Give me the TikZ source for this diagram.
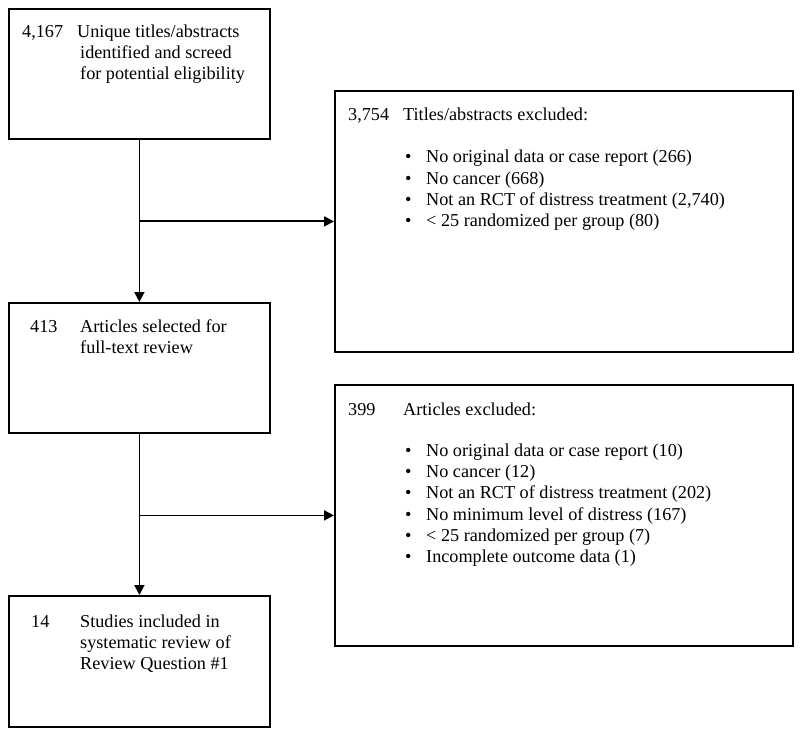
\documentclass[tikz,border=0pt]{standalone}
\usepackage{fontspec}
\setmainfont{Liberation Serif}
\usetikzlibrary{arrows.meta}
\begin{document}
\begin{tikzpicture}[x=1pt,y=-1pt,
  box/.style={draw=black,line width=1.8pt,rectangle,anchor=north west,inner sep=0pt},
  txt/.style={anchor=base west,inner sep=0pt,font=\fontsize{18.2}{21}\selectfont},
  conn/.style={line width=1.8pt,-{Triangle[length=10pt,width=10pt]}}]
\useasboundingbox (0,0) rectangle (800,735);
\node[box,minimum width=261pt,minimum height=130pt] (b1) at (8,8) {};
\node[box,minimum width=458pt,minimum height=261pt] (b2) at (334,90) {};
\node[box,minimum width=261pt,minimum height=130pt] (b3) at (8,302) {};
\node[box,minimum width=458pt,minimum height=261pt] (b4) at (334,384) {};
\node[box,minimum width=261pt,minimum height=131pt] (b5) at (8,595) {};
% box 1 text
\node[txt] (t1a) at (22,38) {4,167};
\node[txt] (t1b) at (77,38) {Unique titles/abstracts};
\node[txt] (t1c) at (80,59) {identified and screed};
\node[txt] (t1d) at (80,80) {for potential eligibility};
% box 2 text
\node[txt] (t2a) at (348,121) {3,754};
\node[txt] (t2b) at (403,121) {Titles/abstracts excluded:};
\node[txt] (t2u1) at (405,163) {•};
\node[txt] (t2i1) at (426,163) {No original data or case report (266)};
\node[txt] (t2u2) at (405,184.3) {•};
\node[txt] (t2i2) at (426,184.3) {No cancer (668)};
\node[txt] (t2u3) at (405,205.6) {•};
\node[txt] (t2i3) at (426,205.6) {Not an RCT of distress treatment (2,740)};
\node[txt] (t2u4) at (405,227) {•};
\node[txt] (t2i4) at (426,227) {< 25 randomized per group (80)};
% box 3 text
\node[txt] (t3a) at (30,332) {413};
\node[txt] (t3b) at (80,332) {Articles selected for};
\node[txt] (t3c) at (80,353) {full-text review};
% box 4 text
\node[txt] (t4a) at (348,415) {399};
\node[txt] (t4b) at (403,415) {Articles excluded:};
\node[txt] (t4u1) at (405,456) {•};
\node[txt] (t4i1) at (426,456) {No original data or case report (10)};
\node[txt] (t4u2) at (405,477.3) {•};
\node[txt] (t4i2) at (426,477.3) {No cancer (12)};
\node[txt] (t4u3) at (405,498.6) {•};
\node[txt] (t4i3) at (426,498.6) {Not an RCT of distress treatment (202)};
\node[txt] (t4u4) at (405,520) {•};
\node[txt] (t4i4) at (426,520) {No minimum level of distress (167)};
\node[txt] (t4u5) at (405,541.3) {•};
\node[txt] (t4i5) at (426,541.3) {< 25 randomized per group (7)};
\node[txt] (t4u6) at (405,562.6) {•};
\node[txt] (t4i6) at (426,562.6) {Incomplete outcome data (1)};
% box 5 text
\node[txt] (t5a) at (31,627) {14};
\node[txt] (t5b) at (80,627) {Studies included in};
\node[txt] (t5c) at (80,648) {systematic review of};
\node[txt] (t5d) at (80,669) {Review Question \#1};
% connectors
\coordinate (j1) at (b1.south |- b2.west);
\coordinate (j2) at (b3.south |- b4.west);
\draw[conn] (b1.south) -- (b3.north);
\draw[conn] (j1) -- (b2.west);
\draw[conn] (b3.south) -- (b5.north);
\draw[conn] (j2) -- (b4.west);
\end{tikzpicture}
\end{document}
